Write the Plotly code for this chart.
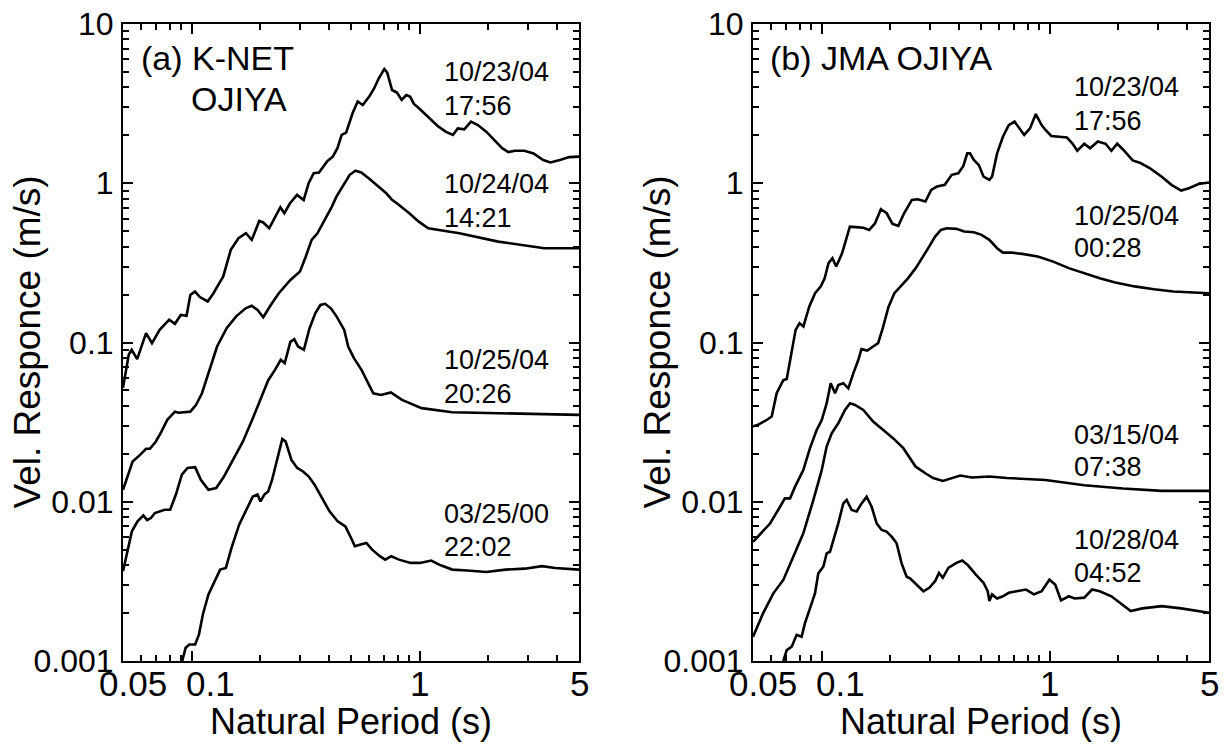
import math
import plotly.graph_objects as go

# ---------------- data ----------------
# Panel (a) K-NET OJIYA
a1_T = [0.05, 0.053, 0.0546, 0.0577, 0.0631, 0.0670, 0.0724, 0.0797, 0.0845, 0.0896,
        0.095, 0.0987, 0.1034, 0.1087, 0.1176, 0.1247, 0.1322, 0.1375, 0.1485, 0.1605,
        0.173, 0.1835, 0.198, 0.206, 0.219, 0.231, 0.245, 0.255, 0.270, 0.290,
        0.310, 0.326, 0.343, 0.362, 0.392, 0.416, 0.436, 0.455, 0.476, 0.508,
        0.535, 0.563, 0.601, 0.632, 0.662, 0.700, 0.721, 0.757, 0.795, 0.834,
        0.874, 0.908, 0.944, 0.993, 1.09, 1.20, 1.30, 1.40, 1.47, 1.57,
        1.68, 1.80, 1.96, 2.15, 2.30, 2.45, 2.62, 2.88, 3.16, 3.48,
        3.75, 4.12, 4.54, 5.0]
a1_V = [0.052, 0.084, 0.090, 0.0786, 0.1145, 0.099, 0.120, 0.139, 0.131, 0.149,
        0.147, 0.199, 0.209, 0.193, 0.181, 0.204, 0.236, 0.259, 0.382, 0.452,
        0.486, 0.441, 0.580, 0.567, 0.522, 0.603, 0.707, 0.648, 0.749, 0.845,
        0.785, 1.0, 1.156, 1.167, 1.367, 1.47, 1.66, 2.01, 2.08, 2.75,
        3.26, 3.10, 3.50, 3.95, 4.56, 5.22, 4.95, 3.85, 3.71, 3.34,
        3.58, 3.50, 3.15, 2.96, 2.62, 2.29, 2.11, 2.01, 2.21, 2.18,
        2.44, 2.32, 2.11, 1.83, 1.66, 1.57, 1.60, 1.60, 1.54, 1.40,
        1.35, 1.40, 1.46, 1.47]

a2_T = [0.05, 0.053, 0.0551, 0.0594, 0.0631, 0.0656, 0.0697, 0.0737, 0.0782, 0.0845,
        0.0876, 0.0987, 0.1046, 0.1110, 0.1176, 0.1293, 0.1424, 0.1568, 0.1725, 0.1834,
        0.1945, 0.2061, 0.2224, 0.2412, 0.2712, 0.2987, 0.3168, 0.3361, 0.3562, 0.3847,
        0.4123, 0.4315, 0.4662, 0.4937, 0.5232, 0.5545, 0.5995, 0.6483, 0.7138, 0.7567,
        0.8018, 0.9008, 0.9912, 1.091, 1.494, 2.21, 3.52, 5.0]
a2_V = [0.0119, 0.0155, 0.0179, 0.0197, 0.0215, 0.0215, 0.0239, 0.0276, 0.0327, 0.0368,
        0.0362, 0.0368, 0.0406, 0.048, 0.0624, 0.0944, 0.123, 0.146, 0.164, 0.170,
        0.160, 0.144, 0.172, 0.204, 0.247, 0.279, 0.347, 0.441, 0.485, 0.589,
        0.714, 0.824, 1.0, 1.13, 1.20, 1.17, 1.07, 0.977, 0.865, 0.786,
        0.741, 0.648, 0.574, 0.522, 0.485, 0.430, 0.391, 0.391]

a3_T = [0.05, 0.0526, 0.0547, 0.0579, 0.0614, 0.0638, 0.0663, 0.0690, 0.0761, 0.0805,
        0.0853, 0.0906, 0.0959, 0.1036, 0.1099, 0.1185, 0.1282, 0.1386, 0.1529, 0.1679,
        0.1855, 0.2004, 0.2167, 0.232, 0.246, 0.256, 0.271, 0.282, 0.293, 0.3106,
        0.329, 0.349, 0.367, 0.385, 0.408, 0.432, 0.467, 0.486, 0.515, 0.556,
        0.571, 0.626, 0.677, 0.748, 0.837, 0.941, 1.02, 1.39, 2.21, 5.0]
a3_V = [0.00366, 0.00513, 0.00652, 0.00753, 0.0082, 0.00768, 0.0079, 0.0085, 0.0089, 0.0089,
        0.0111, 0.0148, 0.0163, 0.0165, 0.0137, 0.0119, 0.0122, 0.0144, 0.0188, 0.0239,
        0.0334, 0.0446, 0.058, 0.0673, 0.0778, 0.0741, 0.101, 0.105, 0.0944, 0.090,
        0.123, 0.153, 0.172, 0.175, 0.164, 0.146, 0.120, 0.0944, 0.0798, 0.0673,
        0.0624, 0.048, 0.0468, 0.0486, 0.0436, 0.0406, 0.0387, 0.0365, 0.0359, 0.0351]

a4_T = [0.0906, 0.0941, 0.0978, 0.1036, 0.1077, 0.1120, 0.1185, 0.1258, 0.1334, 0.1413,
        0.1496, 0.1616, 0.1713, 0.1855, 0.1945, 0.2004, 0.2084, 0.2167, 0.2253, 0.2390,
        0.2498, 0.2584, 0.2740, 0.2905, 0.3080, 0.3264, 0.3460, 0.3740, 0.4025, 0.4370,
        0.4723, 0.5005, 0.5200, 0.5512, 0.5841, 0.6190, 0.6690, 0.706, 0.751, 0.812,
        0.913, 1.004, 1.124, 1.237, 1.39, 1.614, 1.96, 2.38, 2.89, 3.44,
        3.93, 5.0]
a4_V = [0.00098, 0.00121, 0.00127, 0.00127, 0.00147, 0.00196, 0.00262, 0.00317, 0.00375, 0.00384,
        0.00513, 0.00718, 0.0085, 0.0108, 0.0111, 0.01005, 0.0111, 0.0116, 0.0137, 0.0188,
        0.0248, 0.0239, 0.0183, 0.0163, 0.0155, 0.0144, 0.0128, 0.0105, 0.0087, 0.00753,
        0.00701, 0.00592, 0.00525, 0.00538, 0.00551, 0.0050, 0.00455, 0.00433, 0.00455, 0.00433,
        0.00413, 0.00413, 0.00427, 0.00399, 0.00375, 0.0037, 0.00362, 0.00375, 0.0038, 0.00394,
        0.00384, 0.00375]

# Panel (b) JMA OJIYA
b1_T = [0.05, 0.053, 0.0574, 0.0604, 0.0635, 0.0679, 0.0703, 0.0739, 0.0769, 0.0800,
        0.0832, 0.0882, 0.0936, 0.0992, 0.1031, 0.1072, 0.1115, 0.1159, 0.1230, 0.1279,
        0.1330, 0.1410, 0.1525, 0.1618, 0.1715, 0.1819, 0.1929, 0.2045, 0.2169, 0.2300,
        0.2487, 0.2638, 0.2852, 0.3024, 0.3207, 0.3468, 0.3720, 0.3976, 0.4184, 0.4352,
        0.4473, 0.4652, 0.4894, 0.5129, 0.5440, 0.5591, 0.5883, 0.6238, 0.6615, 0.7014,
        0.7295, 0.7735, 0.8201, 0.8697, 0.9222, 0.9590, 1.017, 1.100, 1.190, 1.262,
        1.322, 1.419, 1.505, 1.627, 1.760, 1.866, 1.979, 2.098, 2.314, 2.502,
        2.759, 3.103, 3.422, 3.774, 4.081, 4.499, 5.0]
b1_V = [0.0297, 0.0306, 0.0326, 0.0343, 0.048, 0.058, 0.059, 0.085, 0.120, 0.132,
        0.126, 0.168, 0.204, 0.225, 0.253, 0.315, 0.338, 0.300, 0.364, 0.441,
        0.534, 0.530, 0.525, 0.509, 0.561, 0.687, 0.648, 0.556, 0.540, 0.648,
        0.786, 0.794, 0.768, 0.908, 0.953, 0.977, 1.13, 1.155, 1.285, 1.54,
        1.54, 1.40, 1.30, 1.10, 1.05, 1.10, 1.54, 1.96, 2.32, 2.44,
        2.27, 2.01, 2.21, 2.72, 2.32, 2.16, 1.98, 1.96, 1.94, 1.77,
        1.60, 1.77, 1.66, 1.83, 1.77, 1.60, 1.77, 1.63, 1.39, 1.34,
        1.24, 1.10, 0.977, 0.90, 0.93, 0.99, 1.01]

b2_T = [0.05, 0.0594, 0.0657, 0.069, 0.0727, 0.0764, 0.0831, 0.0889, 0.0951, 0.1001,
        0.1052, 0.1096, 0.1145, 0.1183, 0.1245, 0.1309, 0.1377, 0.1448, 0.1495, 0.1585,
        0.1682, 0.1769, 0.1854, 0.1966, 0.2085, 0.2212, 0.2391, 0.2586, 0.2797, 0.2966,
        0.3145, 0.3336, 0.3537, 0.3901, 0.4219, 0.4652, 0.5029, 0.5440, 0.5883, 0.6238,
        0.6745, 0.7586, 0.8869, 1.037, 1.213, 1.419, 1.659, 1.94, 2.36, 2.869,
        3.489, 4.081, 5.0]
b2_V = [0.0056, 0.0073, 0.0093, 0.0105, 0.0105, 0.0124, 0.0158, 0.0217, 0.0282, 0.0326,
        0.0415, 0.0555, 0.048, 0.054, 0.0555, 0.0515, 0.064, 0.0776, 0.0908, 0.089,
        0.0944, 0.099, 0.123, 0.168, 0.204, 0.225, 0.253, 0.293, 0.347, 0.401,
        0.463, 0.509, 0.522, 0.517, 0.498, 0.493, 0.474, 0.441, 0.391, 0.367,
        0.367, 0.360, 0.347, 0.322, 0.293, 0.272, 0.253, 0.238, 0.225, 0.216,
        0.209, 0.207, 0.204]

b3_T = [0.05, 0.0554, 0.0614, 0.0679, 0.0751, 0.0831, 0.0920, 0.1001, 0.1052, 0.1107,
        0.1183, 0.1266, 0.1332, 0.1401, 0.1523, 0.1686, 0.1864, 0.2062, 0.2282, 0.2441,
        0.2586, 0.2852, 0.3083, 0.3401, 0.3750, 0.4055, 0.4562, 0.544, 0.6486, 0.959,
        1.419, 2.098, 3.103, 5.0]
b3_V = [0.00142, 0.0020, 0.00266, 0.00323, 0.00452, 0.00634, 0.01026, 0.0158, 0.0222, 0.0269,
        0.0311, 0.0377, 0.0415, 0.0405, 0.0377, 0.0318, 0.0282, 0.025, 0.0217, 0.0188,
        0.0166, 0.0151, 0.0141, 0.0135, 0.0141, 0.0146, 0.0142, 0.0144, 0.0141, 0.0137,
        0.0127, 0.0121, 0.0117, 0.0117]

b4_T = [0.0679, 0.0703, 0.0739, 0.0777, 0.0817, 0.0845, 0.0889, 0.0935, 0.0967, 0.1017,
        0.1052, 0.1088, 0.1126, 0.1183, 0.1245, 0.1288, 0.1354, 0.1424, 0.1498, 0.1575,
        0.1657, 0.1743, 0.1833, 0.1928, 0.2028, 0.2133, 0.2243, 0.2360, 0.2441, 0.2797,
        0.2966, 0.3145, 0.327, 0.340, 0.3594, 0.3901, 0.4137, 0.4385, 0.4747, 0.5129,
        0.5353, 0.544, 0.5591, 0.5883, 0.6238, 0.6615, 0.7152, 0.7878, 0.8526, 0.9222,
        0.9975, 1.0577, 1.1218, 1.213, 1.2867, 1.419, 1.5347, 1.659, 1.866, 2.098,
        2.268, 2.55, 3.103, 3.774, 5.0]
b4_V = [0.001, 0.00117, 0.00123, 0.00146, 0.00142, 0.00173, 0.00214, 0.00266, 0.00355, 0.00391,
        0.00474, 0.00485, 0.00575, 0.00732, 0.00977, 0.01026, 0.00888, 0.0087, 0.00977, 0.01076,
        0.0093, 0.00732, 0.00665, 0.0065, 0.00604, 0.00548, 0.0041, 0.00338, 0.0033, 0.00274,
        0.00288, 0.00317, 0.00357, 0.00333, 0.00384, 0.00413, 0.00427, 0.00399, 0.00349, 0.0031,
        0.00274, 0.00238, 0.00262, 0.00247, 0.00255, 0.00268, 0.00274, 0.00281, 0.00262, 0.00274,
        0.00324, 0.00302, 0.0024, 0.00255, 0.00247, 0.0025, 0.00281, 0.00274, 0.00255, 0.00226,
        0.00206, 0.00214, 0.00221, 0.00214, 0.00201]

panel_a_labels = ["10/23/04", "17:56", "10/24/04", "14:21", "10/25/04", "20:26", "03/25/00", "22:02"]
panel_b_labels = ["10/23/04", "17:56", "10/25/04", "00:28", "03/15/04", "07:38", "10/28/04", "04:52"]
x_tick_vals = [0.05, 0.1, 1, 5]
x_tick_text = ["0.05", "0.1", "1", "5"]
y_tick_vals = [0.001, 0.01, 0.1, 1, 10]
y_tick_text = ["0.001", "0.01", "0.1", "1", "10"]
x_title = "Natural Period (s)"
y_title = "Vel. Responce (m/s)"

# ---------------- figure ----------------
FONT = "Liberation Sans, Arial, Helvetica, sans-serif"
W, H = 1227, 744
L_A, R_A, L_B, R_B = 123, 579, 753, 1209
TOP, BOT = 24, 661
SPAN = BOT - TOP

fig = go.Figure()
line = dict(color="black", width=2.6)
for T, V in [(a1_T, a1_V), (a2_T, a2_V), (a3_T, a3_V), (a4_T, a4_V)]:
    fig.add_trace(go.Scatter(x=T, y=V, mode="lines", line=line, xaxis="x", yaxis="y",
                             showlegend=False, hoverinfo="skip"))
for T, V in [(b1_T, b1_V), (b2_T, b2_V), (b3_T, b3_V), (b4_T, b4_V)]:
    fig.add_trace(go.Scatter(x=T, y=V, mode="lines", line=line, xaxis="x2", yaxis="y2",
                             showlegend=False, hoverinfo="skip"))

x_minor = [0.06, 0.07, 0.08, 0.09] + [k / 10 for k in range(2, 10)] + [2, 3, 4]
y_minor = [k * 10 ** e for e in range(-3, 1) for k in range(2, 10)]


def xaxis(dom, anchor):
    return dict(type="log", domain=dom, anchor=anchor,
                range=[math.log10(0.05), math.log10(5)],
                showline=True, linecolor="black", linewidth=2, mirror="allticks",
                ticks="inside", ticklen=10, tickwidth=2, tickcolor="black",
                tickmode="array", tickvals=x_tick_vals, ticktext=["", "", "", ""],
                showticklabels=False,
                minor=dict(ticks="inside", ticklen=6, tickwidth=1.6, tickcolor="black",
                           tickvals=x_minor, showgrid=False),
                showgrid=False, zeroline=False, fixedrange=True)


def yaxis(anchor):
    return dict(type="log", domain=[0, 1], anchor=anchor, range=[-3, 1],
                showline=True, linecolor="black", linewidth=2, mirror="allticks",
                ticks="inside", ticklen=10, tickwidth=2, tickcolor="black",
                tickmode="array", tickvals=y_tick_vals, ticktext=y_tick_text,
                tickfont=dict(family=FONT, size=32, color="black"),
                ticklabelstandoff=1,
                minor=dict(ticks="inside", ticklen=6, tickwidth=1.6, tickcolor="black",
                           tickvals=y_minor, showgrid=False),
                showgrid=False, zeroline=False, fixedrange=True)


ann = []


def txt(text, xref, yref, x, y, size, xanchor="left", yanchor="middle", angle=0, xshift=0):
    ann.append(dict(text=text, xref=xref, yref=yref, x=x, y=y, showarrow=False,
                    xanchor=xanchor, yanchor=yanchor, textangle=angle, xshift=xshift,
                    borderpad=0,
                    font=dict(family=FONT, size=size, color="black")))


# date / time labels (positions given as pixel rows in the picture)
ya = [72, 106, 184, 218, 360, 394, 514, 547]
yb = [87, 121, 216, 248, 435, 467, 540, 573]
for lab, py in zip(panel_a_labels, ya):
    txt(lab, "x domain", "y domain", (443 - L_A) / (R_A - L_A), (BOT - py) / SPAN, 27)
for lab, py in zip(panel_b_labels, yb):
    txt(lab, "x2 domain", "y2 domain", (1073 - L_B) / (R_B - L_B), (BOT - py) / SPAN, 27)

# panel titles
txt("(a) K-NET", "x domain", "y domain", (140 - L_A) / (R_A - L_A), (BOT - 58) / SPAN, 34)
txt("OJIYA", "x domain", "y domain", (190 - L_A) / (R_A - L_A), (BOT - 99) / SPAN, 34)
txt("(b) JMA OJIYA", "x2 domain", "y2 domain", (769 - L_B) / (R_B - L_B), (BOT - 58) / SPAN, 34)

# x tick labels, placed on the log axes
x_label_shift = [10, 19, 0, 0]
for xr, yr in [("x", "y domain"), ("x2", "y2 domain")]:
    for v, t, s in zip(x_tick_vals, x_tick_text, x_label_shift):
        txt(t, xr, yr, math.log10(v), (BOT - 683) / SPAN, 35, xanchor="center", xshift=s)

# axis titles
for xr, yr in [("x domain", "y domain"), ("x2 domain", "y2 domain")]:
    txt(x_title, xr, yr, 0.5, (BOT - 721) / SPAN, 36, xanchor="center")
txt(y_title, "paper", "y domain", 27 / W, 0.5, 37, xanchor="center", angle=-90)
txt(y_title, "paper", "y2 domain", (27 + L_B - L_A) / W, 0.5, 37, xanchor="center", angle=-90)

fig.update_layout(
    width=W, height=H,
    margin=dict(l=0, r=0, t=TOP, b=H - BOT),
    paper_bgcolor="white", plot_bgcolor="white",
    font=dict(family=FONT, color="black"),
    xaxis=xaxis([L_A / W, R_A / W], "y"),
    yaxis=yaxis("x"),
    xaxis2=xaxis([L_B / W, R_B / W], "y2"),
    yaxis2=yaxis("x2"),
    annotations=ann,
    showlegend=False,
)

fig.write_html("out.html")
